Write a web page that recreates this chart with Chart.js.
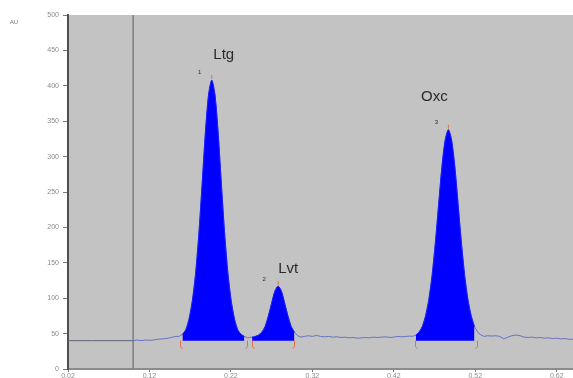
<!DOCTYPE html>
<html>
<head>
<meta charset="utf-8">
<script src="https://cdn.jsdelivr.net/npm/chart.js@4"></script>
<style>
html,body{margin:0;padding:0;background:#fff;}
#wrap{width:573px;height:378px;}
</style>
</head>
<body>
<div id="wrap"><canvas id="c" width="573" height="378"></canvas></div>
<script>
// ---- data ----
const traceX = [0.02,0.05,0.08,0.10,0.105,0.11,0.115,0.12,0.125,0.13,0.135,0.14,0.145,0.15,0.1525,
  0.1565,0.1605,0.1645,0.1685,0.1725,0.1765,0.1805,0.1845,0.1885,0.1925,0.1965,0.2005,0.2045,0.2085,0.2125,0.2165,0.2205,0.2245,0.2285,0.2325,0.2365,0.2405,0.243,
  0.246,0.250,0.254,0.258,0.262,0.266,0.270,0.274,0.278,0.282,0.286,0.290,0.294,0.298,0.302,0.306,
  0.31,0.315,0.32,0.325,0.33,0.335,0.34,0.345,0.35,0.355,0.36,0.365,0.37,0.375,0.38,0.385,0.39,0.395,0.40,0.405,0.41,0.415,0.42,0.425,0.43,0.435,0.44,0.443,
  0.447,0.451,0.455,0.459,0.463,0.467,0.471,0.475,0.479,0.483,0.487,0.491,0.495,0.499,0.503,0.507,0.511,0.515,0.519,0.523,0.527,0.531,
  0.535,0.54,0.545,0.55,0.555,0.56,0.565,0.57,0.575,0.58,0.585,0.59,0.595,0.60,0.605,0.61,0.615,0.62,0.625,0.63,0.635,0.64];
const traceY = [40,40,40,40,41,40,41,40.5,41,42,42.5,43,44,45.5,46,
  46,49,55,70,95,133,188,258,331,387,408,387,331,258,188,133,95,70,55,49,46,44,44.5,
  45,46,48,52,60,75,93,110,117,110,93,75,60,52,47,45,
  46,47,46,47.5,46,45.5,46,45,45.5,44.5,45,44,44.5,43.5,44,44.5,44,45,44.5,45,45.5,44.5,45,46,45.5,46,46.5,46,
  48,52,60,75,98,132,178,232,285,323,338,323,285,232,178,132,98,75,60,52,48,46,
  47,46.5,47,46,42.5,45,47,48,47,45,44.5,45,44,44.5,43.5,44,43,43.5,42.5,43,42,42];

const peakNames = ['Ltg','Lvt','Oxc'];
const peakNumbers = ['1','2','3'];
const peakApexX = [0.1965,0.278,0.487];
const peakApexY = [408,117,338];
const peakStart = [0.157,0.246,0.4455];
const peakEnd = [0.2397,0.298,0.5225];
const baselineValue = 40;
const markerLineX = 0.10;

const yTicks = [0,50,100,150,200,250,300,350,400,450,500];
const xTicks = [0.02,0.12,0.22,0.32,0.42,0.52,0.62];

// ---- styles (pixel offsets for annotations) ----
const nameOffsets = [[12,-25],[10,-17],[-14,-33]];
const numOffsets = [[-12,-8],[-14,-7],[-12,-7]];

const tracePts = traceX.map((x,i)=>({x:x,y:traceY[i]}));

const peakSets = peakNames.map((n,k)=>{
  const pts = tracePts.filter(p=>p.x>=peakStart[k]-1e-9 && p.x<=peakEnd[k]+1e-9);
  return {
    label:n, data:pts, fill:{value:baselineValue}, backgroundColor:'#0000ff',
    borderColor:'#1c1cff', borderWidth:1, pointRadius:0, tension:0.3, order:1
  };
});

const bgPlugin = {
  id:'bg',
  beforeDraw(chart){
    const {ctx, chartArea:a} = chart;
    ctx.save();
    ctx.fillStyle='#c3c3c3';
    ctx.fillRect(a.left,a.top,a.right-a.left,a.bottom-a.top);
    ctx.restore();
  },
  beforeDatasetsDraw(chart){
    const {ctx, chartArea:a, scales:{x}} = chart;
    const px = x.getPixelForValue(markerLineX);
    ctx.save();
    ctx.strokeStyle='#7a7f80'; ctx.lineWidth=1.5;
    ctx.beginPath(); ctx.moveTo(px,a.top); ctx.lineTo(px,a.bottom); ctx.stroke();
    ctx.restore();
  },
  afterDatasetsDraw(chart){
    const {ctx, scales:{x,y}} = chart;
    ctx.save();
    ctx.strokeStyle='#e0704a'; ctx.lineWidth=1;
    const by = y.getPixelForValue(baselineValue);
    peakStart.forEach((s,k)=>{
      [[s,1],[peakEnd[k],-1]].forEach(([v,dir])=>{
        const px = Math.round(x.getPixelForValue(v))+0.5;
        ctx.beginPath();
        ctx.moveTo(px,by); ctx.lineTo(px,by+6); ctx.lineTo(px+2*dir,by+8);
        ctx.stroke();
      });
      const ax = x.getPixelForValue(peakApexX[k]);
      const ay = y.getPixelForValue(peakApexY[k]);
      ctx.beginPath(); ctx.moveTo(ax,ay-1); ctx.lineTo(ax,ay-5); ctx.stroke();
    });
    ctx.fillStyle='#2a2a2a';
    ctx.textAlign='center'; ctx.textBaseline='middle';
    peakNames.forEach((n,k)=>{
      const ax = x.getPixelForValue(peakApexX[k]);
      const ay = y.getPixelForValue(peakApexY[k]);
      ctx.font='15px "Liberation Sans", Arial, sans-serif';
      ctx.fillText(n, ax+nameOffsets[k][0], ay+nameOffsets[k][1]);
      ctx.font='6px "Liberation Sans", Arial, sans-serif';
      ctx.fillText(peakNumbers[k], ax+numOffsets[k][0], ay+numOffsets[k][1]);
    });
    ctx.fillStyle='#777';
    ctx.font='6px "Liberation Sans", Arial, sans-serif';
    ctx.fillText('AU', 14, 22);
    ctx.restore();
  }
};

new Chart(document.getElementById('c'), {
  type:'line',
  data:{
    datasets:[
      ...peakSets,
      {
        label:'trace', data:tracePts, borderColor:'#6674c4', borderWidth:1, pointRadius:0,
        tension:0, fill:false, order:2,
        segment:{ borderColor: ctx => ctx.p1.parsed.x <= markerLineX ? '#5d6478' : '#6674c4' }
      }
    ]
  },
  options:{
    responsive:false, animation:false,
    layout:{padding:{top:15,right:0,left:0,bottom:0}},
    plugins:{legend:{display:false}, tooltip:{enabled:false}},
    scales:{
      x:{
        type:'linear', min:0.02, max:0.64,
        afterBuildTicks: s => { s.ticks = xTicks.map(v=>({value:v})); },
        afterFit: s => { s.height = 9; },
        ticks:{ padding:0, color:'#8a8a8a', font:{size:7, family:'"Liberation Sans", Arial'},
          maxRotation:0, autoSkip:false, callback: v => v.toFixed(2) },
        grid:{ display:true, drawOnChartArea:false, drawTicks:true, tickLength:3, color:'#777' },
        border:{ color:'#8c8c8c', width:2 }
      },
      y:{
        type:'linear', min:0, max:500,
        afterBuildTicks: s => { s.ticks = yTicks.map(v=>({value:v})); },
        afterFit: s => { s.width = 68; },
        ticks:{ padding:4, color:'#8a8a8a', font:{size:7, family:'"Liberation Sans", Arial'} },
        grid:{ display:true, drawOnChartArea:false, drawTicks:true, tickLength:5, color:'#777' },
        border:{ color:'#505050', width:2 }
      }
    }
  },
  plugins:[bgPlugin]
});
</script>
</body>
</html>
